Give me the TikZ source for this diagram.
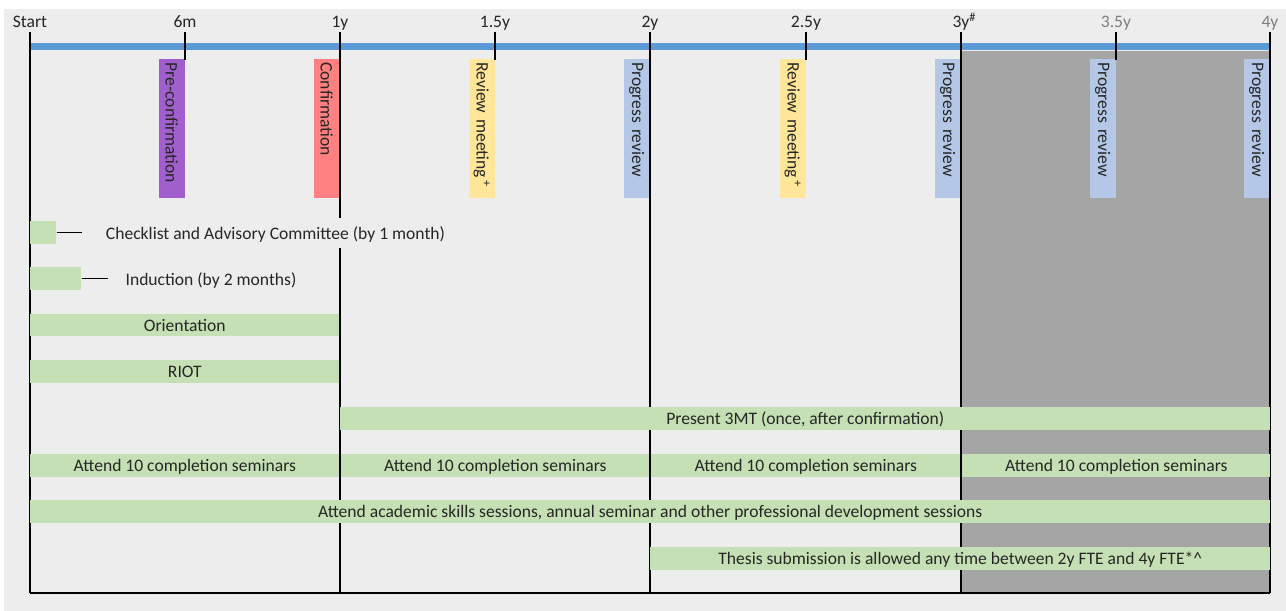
\documentclass[tikz,border=0pt]{standalone}
\usepackage{fontspec}
\setmainfont{Carlito}
\definecolor{bgcol}{HTML}{EDEDED}
\definecolor{lategray}{HTML}{A5A5A5}
\definecolor{lineblue}{HTML}{5B9BD5}
\definecolor{taskgreen}{HTML}{C5E0B4}
\definecolor{precol}{HTML}{A05FCD}
\definecolor{confcol}{HTML}{FF8080}
\definecolor{reviewcol}{HTML}{FFE699}
\definecolor{progcol}{HTML}{B4C7E7}
\definecolor{textdark}{HTML}{262626}
\definecolor{textgray}{HTML}{7F7F7F}

\begin{document}
\begin{tikzpicture}[x=0.02cm,y=-0.02cm]
        \tikzset{every node/.style = {font=\fontsize{10}{12}\selectfont, text=textdark}}
        \tikzset{tlabel/.style = {anchor=south, inner sep=0.5pt, text height=1.6ex, text depth=0.4ex}}
        \tikzset{milestone/.style = {rotate=-90, anchor=north west, minimum height=0.52cm, text width=2.66cm, align=left, inner xsep=0.06cm, inner ysep=0pt}}
        \tikzset{task/.style = {fill=taskgreen, anchor=west, minimum height=0.46cm, inner sep=0pt, text height=1.9ex, text depth=0.45ex}}
        \tikzset{note/.style = {fill=bgcol, inner xsep=2pt, inner ysep=3pt, text height=1.9ex, text depth=0.45ex}}
        \tikzset{yearline/.style = {draw=black, line width=0.7pt}}

        \useasboundingbox (0,0) rectangle (1286,611);
        \fill[bgcol] (4,9) rectangle (1286,611);
        \fill[lategray] (961,51) rectangle (1270,593);
        \fill[lineblue] (30,43.5) rectangle (1270,50.5);

        % milestones
        \node[milestone, fill=precol] (pre) at (185,59) {Pre-confirmation};
        \node[milestone, fill=confcol] (conf) at (340,59) {Confirmation};
        \node[milestone, fill=reviewcol] (rev1) at (495,59) {Review meeting\,\textsuperscript{+}};
        \node[milestone, fill=progcol] (prog1) at (650,59) {Progress review};
        \node[milestone, fill=reviewcol] (rev2) at (806,59) {Review meeting\,\textsuperscript{+}};
        \node[milestone, fill=progcol] (prog2) at (961,59) {Progress review};
        \node[milestone, fill=progcol] (prog3) at (1116,59) {Progress review};
        \node[milestone, fill=progcol] (prog4) at (1270,59) {Progress review};

        % time axis
        \node[tlabel] (t0) at (30,32) {Start};
        \node[tlabel] (t6m) at (185,32) {6m};
        \node[tlabel] (t1) at (340,32) {1y};
        \node[tlabel] (t18m) at (495,32) {1.5y};
        \node[tlabel] (t2) at (650,32) {2y};
        \node[tlabel] (t30m) at (806,32) {2.5y};
        \node[tlabel] (t3) at (961,32) {3y\rlap{\textsuperscript{\#}}};
        \node[tlabel, text=textgray] (t42m) at (1116,32) {3.5y};
        \node[tlabel, text=textgray] (t4) at (1270,32) {4y};

        \coordinate (b0) at (30,593);
        \coordinate (b1) at (340,593);
        \coordinate (b2) at (650,593);
        \coordinate (b3) at (961,593);
        \coordinate (b4) at (1270,593);
        \coordinate (m6m) at (185,60);
        \coordinate (m18m) at (495,60);
        \coordinate (m30m) at (806,60);
        \coordinate (m42m) at (1116,60);

        \draw[yearline] (t0.south) -- (b0);
        \draw[yearline] (t1.south) -- (b1);
        \draw[yearline] (t2.south) -- (b2);
        \draw[yearline] (t3.south) -- (b3);
        \draw[yearline] (t4.south) -- (b4);
        \draw[yearline] (b0) -- (b4);
        \draw[yearline] (t6m.south) -- (m6m);
        \draw[yearline] (t18m.south) -- (m18m);
        \draw[yearline] (t30m.south) -- (m30m);
        \draw[yearline] (t42m.south) -- (m42m);

        % tasks
        \node[task, minimum width=0.52cm] (chk) at (30,232.5) {};
        \coordinate (chkend) at (82,232.5);
        \draw[yearline] (chk) -- (chkend);
        \node[note] (chklbl) at (275.5,233) {Checklist and Advisory Committee (by 1 month)};

        \node[task, minimum width=1.02cm] (ind) at (30,278.5) {};
        \coordinate (indend) at (108,278.5);
        \draw[yearline] (ind) -- (indend);
        \node[note] (indlbl) at (211,279.5) {Induction (by 2 months)};

        \node[task, minimum width=6.18cm] (orient) at (30,325) {Orientation};
        \node[task, minimum width=6.18cm] (riot) at (30,371.5) {RIOT};
        \node[task, minimum width=18.6cm] (tmt) at (340,418.5) {Present 3MT (once, after confirmation)};

        \node[task, minimum width=6.18cm] (sem1) at (30,465.5) {Attend 10 completion seminars};
        \node[task, minimum width=6.16cm] (sem2) at (341,465.5) {Attend 10 completion seminars};
        \node[task, minimum width=6.18cm] (sem3) at (651,465.5) {Attend 10 completion seminars};
        \node[task, minimum width=6.16cm] (sem4) at (962,465.5) {Attend 10 completion seminars};

        \node[task, minimum width=24.8cm] (skills) at (30,511.5) {Attend academic skills sessions, annual seminar and other professional development sessions};
        \node[task, minimum width=12.4cm] (thesis) at (650,558.5) {Thesis submission is allowed any time between 2y FTE and 4y FTE*\^{}};
    \end{tikzpicture}
\end{document}
